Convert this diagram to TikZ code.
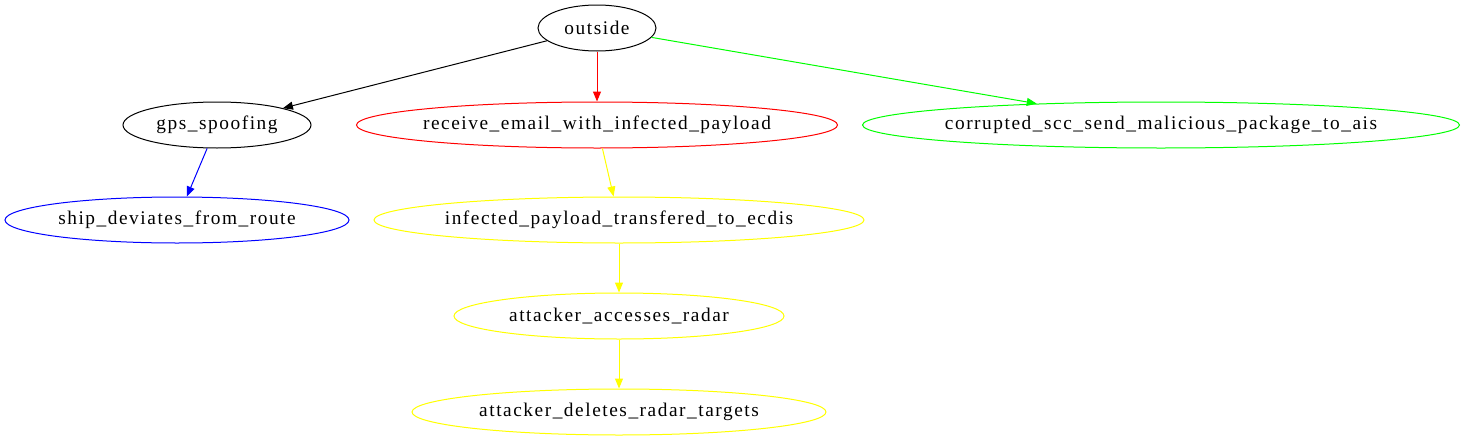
\documentclass[tikz,border=0pt]{standalone}
\usepackage{fontspec}
\setmainfont{Liberation Serif}
\newfontfamily\gvfont[LetterSpace=8]{Liberation Serif}
\usetikzlibrary{shapes.geometric,arrows.meta}
\definecolor{gvyellow}{RGB}{255,255,0}
\definecolor{gvgreen}{RGB}{0,255,0}
\definecolor{gvred}{RGB}{255,0,0}
\definecolor{gvblue}{RGB}{0,0,255}
\newcommand\gvtext[1]{\makebox[0pt][c]{#1}}
\begin{document}
\begin{tikzpicture}[x=0.75pt,y=-0.75pt,
  gvnode/.style={ellipse,draw,line width=0.75pt,inner sep=0pt,minimum height=34.5pt,font=\gvfont\fontsize{14.5}{16}\selectfont},
  gvedge/.style={-{Triangle[length=7.5pt,width=6pt]},line width=0.75pt}]
\useasboundingbox (0,0) rectangle (1465,443);
\node[gvnode,minimum width=88.5pt] (outside) at (597,28) {\gvtext{outside}};
\node[gvnode,minimum width=141pt] (gps) at (217,125) {\gvtext{gps\_spoofing}};
\node[gvnode,draw=gvred,minimum width=360.75pt] (recv) at (597,125) {\gvtext{receive\_email\_with\_infected\_payload}};
\node[gvnode,draw=gvgreen,minimum width=447.75pt] (corr) at (1161,125) {\gvtext{corrupted\_scc\_send\_malicious\_package\_to\_ais}};
\node[gvnode,draw=gvblue,minimum width=258pt] (ship) at (177,220) {\gvtext{ship\_deviates\_from\_route}};
\node[gvnode,draw=gvyellow,minimum width=367.5pt] (inf) at (619,220) {\gvtext{infected\_payload\_transfered\_to\_ecdis}};
\node[gvnode,draw=gvyellow,minimum width=247.5pt] (acc) at (619,316) {\gvtext{attacker\_accesses\_radar}};
\node[gvnode,draw=gvyellow,minimum width=310.5pt] (del) at (619,412) {\gvtext{attacker\_deletes\_radar\_targets}};
\draw[gvedge] (outside) -- (gps);
\draw[gvedge,gvred] (outside) -- (recv);
\draw[gvedge,gvgreen] (outside) -- (corr);
\draw[gvedge,gvblue] (gps) -- (ship);
\draw[gvedge,gvyellow] (recv) -- (inf);
\draw[gvedge,gvyellow] (inf) -- (acc);
\draw[gvedge,gvyellow] (acc) -- (del);
\end{tikzpicture}
\end{document}
